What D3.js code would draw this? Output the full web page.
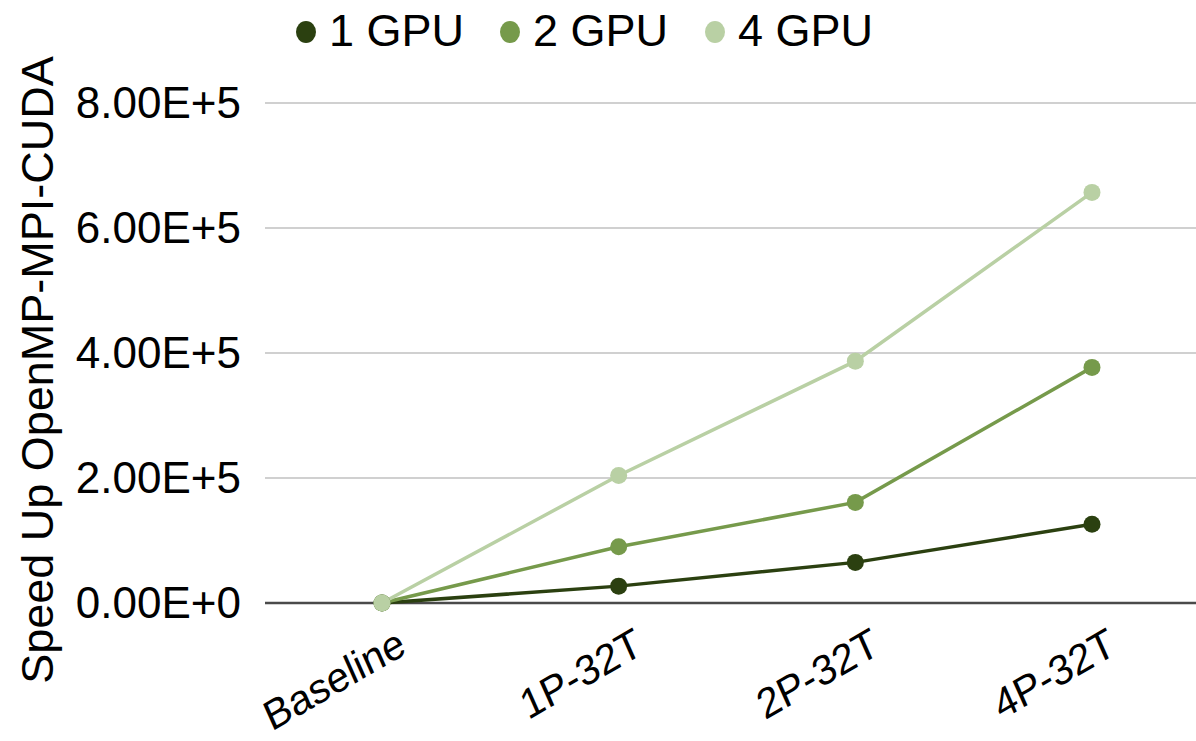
<!DOCTYPE html>
<html>
<head>
<meta charset="utf-8">
<script src="https://cdn.jsdelivr.net/npm/d3@7"></script>
<style>
  html, body { margin: 0; padding: 0; background: #fff; }
  svg { display: block; font-family: "Liberation Sans", Arial, Helvetica, sans-serif; }
</style>
</head>
<body>
<svg id="chart" width="1196" height="741"></svg>
<script>
const categories = ["Baseline", "1P-32T", "2P-32T", "4P-32T"];
const seriesNames = ["1 GPU", "2 GPU", "4 GPU"];
const gpu1 = [0, 27000, 65000, 126000];
const gpu2 = [0, 90000, 161000, 377000];
const gpu4 = [0, 204000, 387000, 657000];
const yTicks = [0, 200000, 400000, 600000, 800000];
const yTickLabels = ["0.00E+0", "2.00E+5", "4.00E+5", "6.00E+5", "8.00E+5"];
const colors = ["#2b4010", "#769a4b", "#b9d0a4"];
const yTitle = "Speed Up OpenMP-MPI-CUDA";

const series = [gpu1, gpu2, gpu4];

const svg = d3.select("#chart");
const plotLeft = 265, plotRight = 1196;

const x = d3.scalePoint().domain(categories).range([382, 1092]);
const y = d3.scaleLinear().domain([0, 800000]).range([603, 103]);

// gridlines
svg.append("g").selectAll("line")
  .data(yTicks.filter(d => d !== 0))
  .join("line")
  .attr("x1", plotLeft).attr("x2", plotRight)
  .attr("y1", d => y(d)).attr("y2", d => y(d))
  .attr("stroke", "#d0d0d0").attr("stroke-width", 2);

// tick labels
svg.append("g").selectAll("text")
  .data(yTicks)
  .join("text")
  .attr("x", 241).attr("y", d => y(d) + 15)
  .attr("text-anchor", "end")
  .attr("font-size", 44)
  .attr("fill", "#000")
  .text((d, i) => yTickLabels[i]);

// zero axis line
svg.append("line")
  .attr("x1", plotLeft).attr("x2", plotRight)
  .attr("y1", y(0)).attr("y2", y(0))
  .attr("stroke", "#4a4a4a").attr("stroke-width", 2.5);

// x labels
svg.append("g").selectAll("text")
  .data(categories)
  .join("text")
  .attr("transform", d => `translate(${x(d) + 26},${653}) rotate(-30) skewX(-6)`)
  .attr("text-anchor", "end")
  .attr("font-size", 41)
  .attr("fill", "#000")
  .text(d => d);

// y title
svg.append("text")
  .attr("transform", `translate(53,370) rotate(-90)`)
  .attr("text-anchor", "middle")
  .attr("font-size", 45)
  .attr("fill", "#000")
  .text(yTitle);

// lines & points
const line = d3.line().x((d, i) => x(categories[i])).y(d => y(d));
series.forEach((s, k) => {
  svg.append("path")
    .datum(s)
    .attr("d", line)
    .attr("fill", "none")
    .attr("stroke", colors[k])
    .attr("stroke-width", 3.5);
});
series.forEach((s, k) => {
  svg.append("g").selectAll("circle")
    .data(s)
    .join("circle")
    .attr("cx", (d, i) => x(categories[i]))
    .attr("cy", d => y(d))
    .attr("r", 8.5)
    .attr("fill", colors[k]);
});

// legend
const legendX = [306, 510, 715];
const lg = svg.append("g");
seriesNames.forEach((name, k) => {
  lg.append("ellipse")
    .attr("cx", legendX[k]).attr("cy", 32)
    .attr("rx", 10).attr("ry", 11)
    .attr("fill", colors[k]);
  lg.append("text")
    .attr("x", legendX[k] + 23).attr("y", 46)
    .attr("font-size", 45)
    .attr("fill", "#000")
    .text(name);
});
</script>
</body>
</html>
